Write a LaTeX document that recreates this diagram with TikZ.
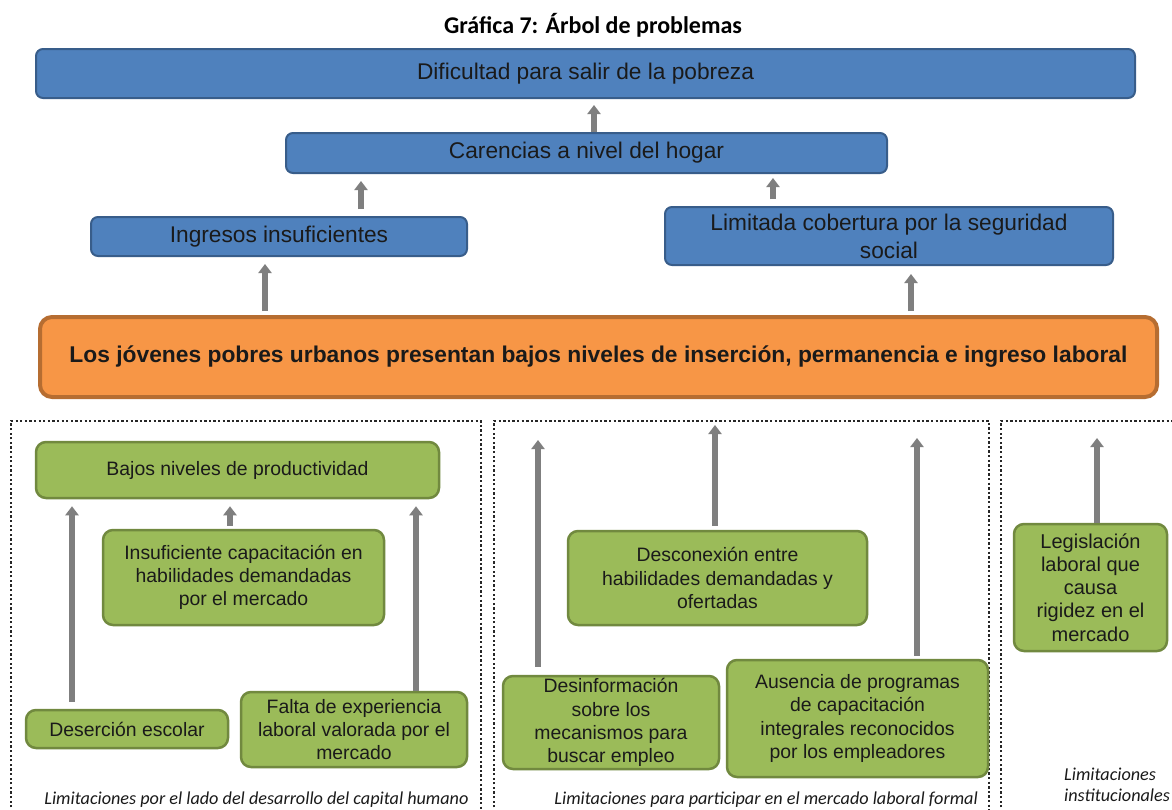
\documentclass[tikz,border=0pt]{standalone}
\usepackage{fontspec}
\setmainfont{Liberation Sans}
\newfontfamily\calib{Carlito}
\usetikzlibrary{arrows.meta,calc}
\definecolor{bfill}{HTML}{4F81BD}
\definecolor{bdraw}{HTML}{385D8A}
\definecolor{gfill}{HTML}{9BBB59}
\definecolor{gdraw}{HTML}{71893F}
\definecolor{ofill}{HTML}{F79646}
\definecolor{odraw}{HTML}{B66D31}
\definecolor{agray}{HTML}{7F7F7F}
\definecolor{dotc}{HTML}{262626}
\definecolor{txt}{HTML}{1A1A1A}
\tikzset{
  bluebox/.style={draw=bdraw,fill=bfill,line width=2pt,rounded corners=7pt,align=center,inner sep=2pt,text=txt,font=\fontsize{22.7}{28}\selectfont},
  orangebox/.style={draw=odraw,fill=ofill,line width=4pt,rounded corners=12pt,align=center,inner sep=2pt,text=txt,font=\fontsize{22.8}{26}\selectfont\bfseries},
  greenbox/.style={draw=gdraw,fill=gfill,line width=2.5pt,rounded corners=10pt,align=center,inner sep=2pt,text=txt,font=\fontsize{19.4}{23.2}\selectfont},
  garrow/.style={draw=agray,line width=5.5pt,-{Triangle[width=13pt,length=9pt]}},
  dotbox/.style={draw=dotc,line width=2.5pt,dash pattern=on 2.3pt off 2.3pt},
  lbl/.style={font=\calib\itshape\fontsize{18.2}{20.5}\selectfont,inner sep=0pt,text=txt},
}
\begin{document}
\begin{tikzpicture}[x=1pt,y=-1pt]
\useasboundingbox (0,0) rectangle (1172,809);
\fill[white] (0,0) rectangle (1172,809);

\node[font=\calib\bfseries\fontsize{24}{26}\selectfont] (title) at (593,25) {Gráfica 7: Árbol de problemas};

\node[bluebox,minimum width=1099pt,minimum height=49pt] (dif) at (585.5,73.5) {Dificultad para salir de la pobreza};
\node[bluebox,minimum width=601pt,minimum height=40pt] (car) at (586.5,153) {Carencias a nivel del hogar};
\node[bluebox,minimum width=376pt,minimum height=39pt] (ing) at (279,236.5) {Ingresos insuficientes};
\node[bluebox,minimum width=448pt,minimum height=58pt] (lim) at (889,236) {Limitada cobertura por la seguridad\\social};
\node[orangebox,minimum width=1117pt,minimum height=80pt] (ora) at (598.5,357) {Los jóvenes pobres urbanos presentan bajos niveles de inserción, permanencia e ingreso laboral};

% dotted groups
\draw[dotbox] (11,812) -- (11,421) -- (481,421) -- (481,812);
\draw[dotbox] (494,812) -- (494,421) -- (989,421) -- (989,812);
\draw[dotbox] (1001,812) -- (1001,421) -- (1180,421);

% green boxes
\node[greenbox,minimum width=403pt,minimum height=56pt] (baj) at (237.5,470) {Bajos niveles de productividad};
\node[greenbox,minimum width=281pt,minimum height=95pt] (ins) at (243.5,577.5) {Insuficiente capacitación en\\habilidades demandadas\\por el mercado};
\node[greenbox,minimum width=202pt,minimum height=38pt] (des) at (127,729) {Deserción escolar};
\node[greenbox,minimum width=226pt,minimum height=75pt] (fal) at (354,729.5) {Falta de experiencia\\laboral valorada por el\\mercado};
\node[greenbox,minimum width=299pt,minimum height=94pt] (dcx) at (717.5,578) {Desconexión entre\\habilidades demandadas y\\ofertadas};
\node[greenbox,minimum width=216pt,minimum height=93pt] (dsi) at (611,722.5) {Desinformación\\sobre los\\mecanismos para\\buscar empleo};
\node[greenbox,minimum width=261pt,minimum height=117pt] (aus) at (857.5,718.5) {Ausencia de programas\\de capacitación\\integrales reconocidos\\por los empleadores};
\node[greenbox,minimum width=153pt,minimum height=127pt,font=\fontsize{20}{23.2}\selectfont] (leg) at (1090.5,587.5) {Legislación\\laboral que\\causa\\rigidez en el\\mercado};

% labels
\node[lbl,anchor=base] (l1) at (256.5,804) {Limitaciones por el lado del desarrollo del capital humano};
\node[lbl,anchor=base east] (l2) at (978,804) {Limitaciones para participar en el mercado laboral formal};
\node[lbl,anchor=north west,align=left] (l3) at (1064,768) {Limitaciones\\institucionales};

% arrows top part
\coordinate (x1) at (594,0);
\coordinate (x2) at (361,0);
\coordinate (x3) at (773,0);
\coordinate (x4) at (265,0);
\coordinate (x5) at (911,0);
\draw[garrow,shorten >=6pt] (x1 |- car.north) -- (x1 |- dif.south);
\draw[garrow,shorten <=7pt,shorten >=7pt] (x2 |- ing.north) -- (x2 |- car.south);
\draw[garrow,shorten <=7pt,shorten >=4pt] (x3 |- lim.north) -- (x3 |- car.south);
\draw[garrow,shorten <=4pt,shorten >=7pt] (x4 |- ora.north) -- (x4 |- ing.south);
\draw[garrow,shorten <=4pt,shorten >=8pt] (x5 |- ora.north) -- (x5 |- lim.south);

% arrows group A
\coordinate (y1) at (72,0);
\coordinate (y2) at (230,0);
\coordinate (y3) at (416,0);
\draw[garrow,shorten <=7pt,shorten >=7pt] (y1 |- des.north) -- (y1 |- baj.south);
\draw[garrow,shorten <=3pt,shorten >=7pt] (y2 |- ins.north) -- (y2 |- baj.south);
\draw[garrow,shorten >=7pt] (y3 |- fal.north) -- (y3 |- baj.south);

% arrows group B and C
\coordinate (e1) at (538,440);
\coordinate (e2) at (715,425);
\coordinate (e3) at (917,438);
\coordinate (e4) at (1097,438);
\draw[garrow,shorten <=8pt] (e1 |- dsi.north) -- (e1);
\draw[garrow,shorten <=4pt] (e2 |- dcx.north) -- (e2);
\draw[garrow,shorten <=3pt] (e3 |- aus.north) -- (e3);
\draw[garrow] (e4 |- leg.north) -- (e4);
\end{tikzpicture}
\end{document}
